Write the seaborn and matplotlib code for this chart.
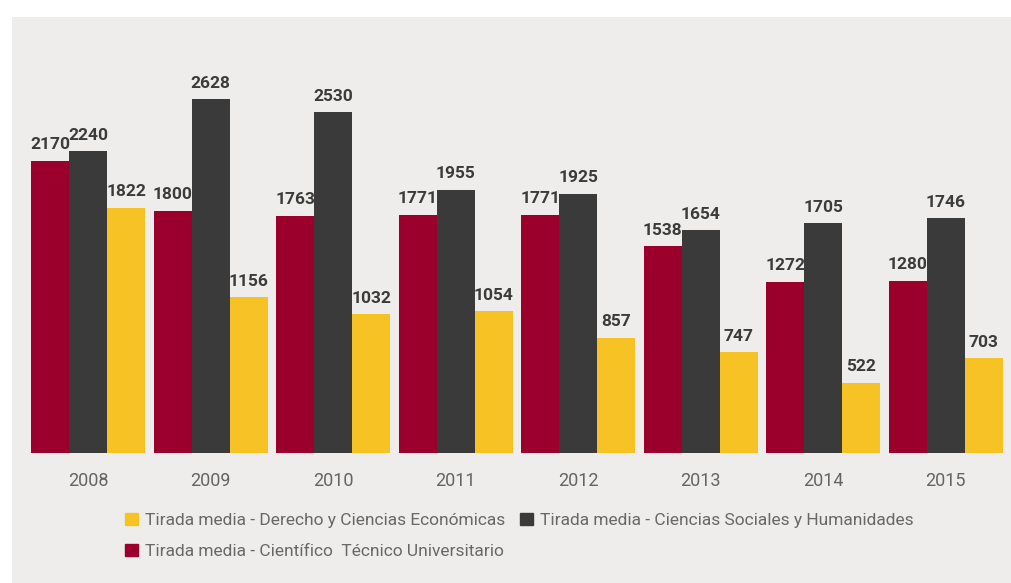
import pandas as pd
import numpy as np
import seaborn as sns
import matplotlib.pyplot as plt
from matplotlib.patches import Rectangle, Patch

# datos
years = ['2008', '2009', '2010', '2011', '2012', '2013', '2014', '2015']
cientifico = [2170, 1800, 1763, 1771, 1771, 1538, 1272, 1280]
sociales = [2240, 2628, 2530, 1955, 1925, 1654, 1705, 1746]
derecho = [1822, 1156, 1032, 1054, 857, 747, 522, 703]

s_cien = 'Tirada media - Científico  Técnico Universitario'
s_soc = 'Tirada media - Ciencias Sociales y Humanidades'
s_der = 'Tirada media - Derecho y Ciencias Económicas'
colores = {s_cien: '#9b002c', s_soc: '#3a3a3a', s_der: '#f6c224'}

df = pd.DataFrame({
    'Año': years * 3,
    'Serie': [s_cien] * 8 + [s_soc] * 8 + [s_der] * 8,
    'Tirada': cientifico + sociales + derecho,
})

sns.set_theme(style='white')
plt.rcParams['font.family'] = ['Roboto', 'DejaVu Sans']

fig = plt.figure(figsize=(10.11, 5.83), dpi=100)
fig.patch.set_facecolor('white')
# panel gris de fondo
fig.patches.append(Rectangle((12 / 1011, 0), 1, 1 - 17 / 583, transform=fig.transFigure,
                             facecolor='#eeedeb', edgecolor='none', zorder=-1))

ax = fig.add_axes([27 / 1011, 130 / 583, 980 / 1011, 404 / 583])
ax.set_facecolor('none')
sns.barplot(data=df, x='Año', y='Tirada', hue='Serie', order=years,
            hue_order=[s_cien, s_soc, s_der], palette=colores,
            width=0.93, gap=0, saturation=1, legend=False, linewidth=0, ax=ax)

for cont in ax.containers:
    ax.bar_label(cont, fmt='%d', padding=6, fontsize=12.5, fontweight='bold', color='#3b3b3b')

ax.set_ylim(0, 3000)
ax.set_xlim(-0.5, 7.5)
ax.set_xlabel('')
ax.set_ylabel('')
ax.set_yticks([])
sns.despine(ax=ax, left=True, bottom=True)
ax.tick_params(axis='x', length=0, pad=14, labelsize=13, labelcolor='#646464')

handles = [Patch(color=colores[s_der]), Patch(color=colores[s_cien]), Patch(color=colores[s_soc])]
labels = [s_der, s_cien, s_soc]
fig.legend(handles, labels, ncol=2, loc='upper left', bbox_to_anchor=(109 / 1011, 1 - 497 / 583),
           frameon=False, prop={'size': 12.5}, labelcolor='#686868',
           handlelength=0.75, handleheight=0.75,
           handletextpad=0.4, columnspacing=0.9, labelspacing=0.9)

plt.savefig('out.png', dpi=100, facecolor=fig.get_facecolor())
